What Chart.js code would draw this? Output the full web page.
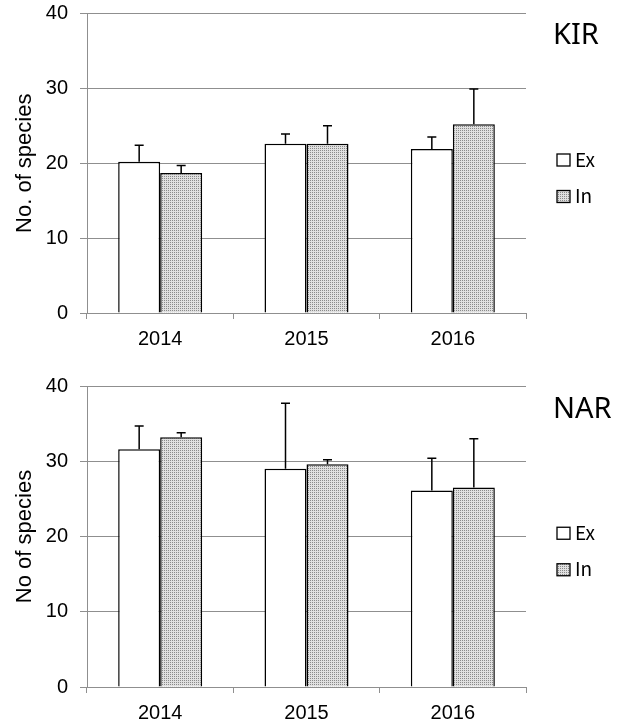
<!DOCTYPE html>
<html><head><meta charset="utf-8">
<script src="https://cdn.jsdelivr.net/npm/chart.js@4.4.0/dist/chart.umd.min.js"></script>
<style>
html,body{margin:0;padding:0;background:#fff;}
#wrap{position:relative;width:627px;height:727px;}
canvas{position:absolute;left:0;}
</style></head><body>
<div id="wrap">
<canvas id="c1" width="627" height="360" style="top:0"></canvas>
<canvas id="c2" width="627" height="367" style="top:360px"></canvas>
</div>
<script>
// ---- data ----
const years = ['2014', '2015', '2016'];
const seriesNames = ['Ex', 'In'];
const kirEx = [20.2, 22.6, 21.9];
const kirExErr = [2.2, 1.3, 1.6];
const kirIn = [18.7, 22.6, 25.2];
const kirInErr = [1.0, 2.4, 4.7];
const narEx = [31.6, 29.0, 26.1];
const narExErr = [3.1, 8.7, 4.3];
const narIn = [33.2, 29.6, 26.5];
const narInErr = [0.6, 0.6, 6.5];
const yMin = 0, yMax = 40, yStep = 10;

// ---- dotted fill pattern ----
function makePattern() {
  const c = document.createElement('canvas');
  c.width = 2; c.height = 2;
  const g = c.getContext('2d');
  g.fillStyle = '#e0e0e0'; g.fillRect(0, 0, 2, 2);
  g.fillStyle = '#8a8a8a'; g.fillRect(0, 0, 1, 1);
  return document.createElement('canvas').getContext('2d').createPattern(c, 'repeat');
}
const dotted = makePattern();

const errorBars = {
  id: 'errorBars',
  afterDatasetsDraw(chart) {
    const ctx = chart.ctx, ys = chart.scales.y;
    chart.data.datasets.forEach((ds, i) => {
      const meta = chart.getDatasetMeta(i);
      meta.data.forEach((bar, j) => {
        const top = ys.getPixelForValue(ds.data[j] + ds.errors[j]);
        ctx.save();
        ctx.strokeStyle = '#000'; ctx.lineWidth = 1.5;
        ctx.beginPath();
        ctx.moveTo(bar.x, bar.y); ctx.lineTo(bar.x, top);
        ctx.moveTo(bar.x - 4.5, top); ctx.lineTo(bar.x + 4.5, top);
        ctx.stroke();
        ctx.restore();
      });
    });
  }
};

const sideLabels = {
  id: 'sideLabels',
  afterDraw(chart, args, opts) {
    const ctx = chart.ctx, a = chart.chartArea;
    ctx.save();
    ctx.fillStyle = '#000';
    ctx.font = '29px "Noto Sans"';
    ctx.textAlign = 'left'; ctx.textBaseline = 'alphabetic';
    ctx.fillText(opts.title, opts.titleX, a.top + opts.titleDy);
    const mid = (a.top + a.bottom) / 2 + opts.legendDy;
    chart.data.datasets.forEach((ds, i) => {
      const cy = mid + (i - 0.5) * opts.legendGap;
      ctx.fillStyle = ds.backgroundColor;
      ctx.fillRect(opts.boxX, cy - 6, 13, 12);
      ctx.strokeStyle = '#000'; ctx.lineWidth = 1.3;
      ctx.strokeRect(opts.boxX, cy - 6, 13, 12);
      ctx.fillStyle = '#000';
      ctx.font = '19px "Noto Sans CJK JP"';
      ctx.textBaseline = 'alphabetic';
      ctx.fillText(ds.label, opts.boxX + 18, cy + 6.5);
    });
    ctx.restore();
  }
};

function makeChart(id, ex, exErr, inn, innErr, yTitle, title, padTop, xHeight, titleDy) {
  return new Chart(document.getElementById(id), {
    type: 'bar',
    data: {
      labels: years,
      datasets: [
        { label: seriesNames[0], data: ex, errors: exErr, backgroundColor: '#ffffff',
          borderColor: '#000', borderWidth: 1.5, categoryPercentage: 0.574, barPercentage: 1 },
        { label: seriesNames[1], data: inn, errors: innErr, backgroundColor: dotted,
          borderColor: '#000', borderWidth: 1.5, categoryPercentage: 0.574, barPercentage: 1 }
      ]
    },
    options: {
      responsive: false,
      animation: false,
      layout: { padding: { top: padTop, right: 101, left: 0, bottom: 0 } },
      plugins: {
        legend: { display: false },
        tooltip: { enabled: false },
        sideLabels: { title: title, titleX: 553, titleDy: titleDy, legendDy: 15, legendGap: 36.5, boxX: 557 }
      },
      scales: {
        x: {
          offset: true,
          grid: { offset: true, drawOnChartArea: false, drawTicks: true, tickLength: 6, color: '#8f8f8f', lineWidth: 1 },
          border: { display: true, color: '#8f8f8f', width: 1 },
          ticks: { color: '#000', font: { family: '"Liberation Sans", Arial', size: 20 }, padding: 8 },
          afterFit(s) { s.height = xHeight; s.paddingLeft = 0; s.paddingRight = 0; }
        },
        y: {
          min: yMin, max: yMax,
          ticks: { stepSize: yStep, color: '#000', font: { family: '"Liberation Sans", Arial', size: 20 }, padding: 12 },
          grid: { color: '#8f8f8f', lineWidth: 1, tickLength: 7, drawTicks: true },
          border: { display: true, color: '#8f8f8f', width: 1 },
          title: { display: true, text: yTitle, color: '#000', font: { family: '"Liberation Sans", Arial', size: 22 }, padding: { top: 12, bottom: 0 } },
          afterFit(s) { s.width = 87; s.paddingTop = 0; s.paddingBottom = 0; }
        }
      }
    },
    plugins: [errorBars, sideLabels]
  });
}

makeChart('c1', kirEx, kirExErr, kirIn, kirInErr, 'No. of species', 'KIR', 13.5, 47, 30);
makeChart('c2', narEx, narExErr, narIn, narInErr, 'No of species', 'NAR', 26, 40, 31.5);
</script>
</body></html>
